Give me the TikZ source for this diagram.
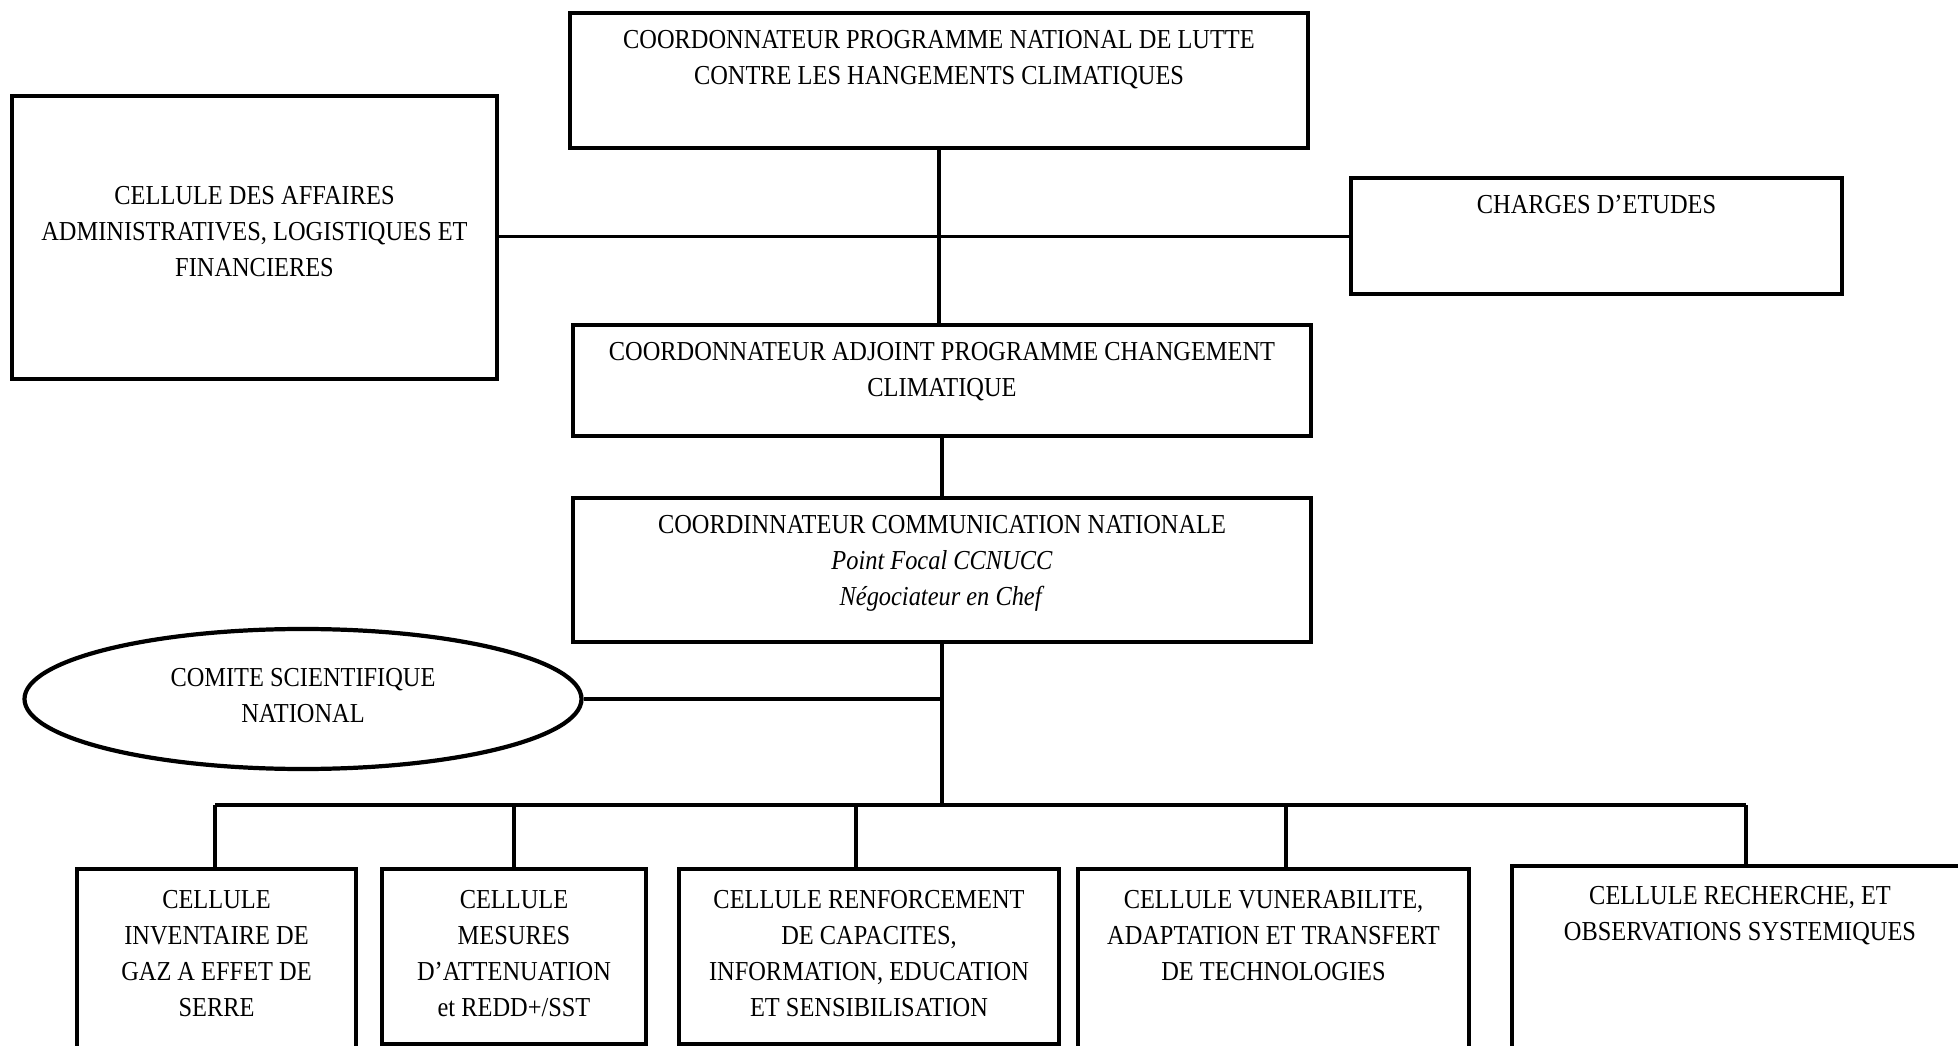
\documentclass[tikz,border=0pt]{standalone}
\usepackage{fontspec}
\setmainfont[FakeStretch=0.89]{Liberation Serif}
\usepackage{tikz}
\usetikzlibrary{shapes, positioning, calc}

\begin{document}
\begin{tikzpicture}[every node/.style={font=\fontsize{7.8}{10.24}\selectfont},
  bx/.style={draw, line width=1.2pt, rectangle, anchor=north, inner sep=0pt},
  intxt/.style={anchor=north, align=center, inner sep=0pt},
  lnk/.style={line width=0.9pt}
]
  \path[use as bounding box, clip] (0,0) rectangle (19.58,-10.46);

  % upper part
  \node[bx, minimum width=7.38cm, minimum height=1.35cm] (cnat) at (9.39,-0.11) {};
  \node[intxt, below=0.19cm of cnat.north] (cnat-t) {COORDONNATEUR PROGRAMME NATIONAL DE LUTTE\\CONTRE LES HANGEMENTS CLIMATIQUES};
  \node[bx, minimum width=4.85cm, minimum height=2.83cm] (caf) at (2.545,-0.94) {};
  \node[intxt, below=0.92cm of caf.north] (caf-t) {CELLULE DES AFFAIRES\\ADMINISTRATIVES, LOGISTIQUES ET\\FINANCIERES};
  \node[bx, minimum width=4.91cm, minimum height=1.16cm] (ched) at (15.965,-1.76) {};
  \node[intxt, below=0.19cm of ched.north] (ched-t) {CHARGES D’ETUDES};
  \node[bx, minimum width=7.38cm, minimum height=1.11cm] (cadj) at (9.42,-3.23) {};
  \node[intxt, below=0.19cm of cadj.north] (cadj-t) {COORDONNATEUR ADJOINT PROGRAMME CHANGEMENT\\CLIMATIQUE};
  \node[bx, minimum width=7.38cm, minimum height=1.44cm] (ccom) at (9.42,-4.96) {};
  \node[intxt, below=0.19cm of ccom.north] (ccom-t) {COORDINNATEUR COMMUNICATION NATIONALE\\\textit{Point Focal CCNUCC}\\\textit{Négociateur en Chef}};
  \node[draw, ellipse, line width=1.2pt, minimum width=5.57cm, minimum height=1.40cm, inner sep=0pt] (csn) at (3.03,-6.99) {};
  \node[align=center, inner sep=0pt] (csn-t) at ([yshift=0.03cm]csn.center) {COMITE SCIENTIFIQUE\\NATIONAL};

  % cellules
  \node[bx, minimum width=2.79cm, minimum height=2.5cm] (b1) at (2.165,-8.67) {};
  \node[intxt, below=0.23cm of b1.north] (b1-t) {CELLULE\\INVENTAIRE DE\\GAZ A EFFET DE\\SERRE};
  \node[bx, minimum width=2.64cm, minimum height=1.75cm] (b2) at (5.14,-8.67) {};
  \node[intxt, below=0.23cm of b2.north] (b2-t) {CELLULE\\MESURES\\D’ATTENUATION\\et REDD+/SST};
  \node[bx, minimum width=3.80cm, minimum height=1.75cm] (b3) at (8.69,-8.67) {};
  \node[intxt, below=0.23cm of b3.north] (b3-t) {CELLULE RENFORCEMENT\\DE CAPACITES,\\INFORMATION, EDUCATION\\ET SENSIBILISATION};
  \node[bx, minimum width=3.91cm, minimum height=2.5cm] (b4) at (12.735,-8.67) {};
  \node[intxt, below=0.23cm of b4.north] (b4-t) {CELLULE VUNERABILITE,\\ADAPTATION ET TRANSFERT\\DE TECHNOLOGIES};
  \node[bx, minimum width=4.56cm, minimum height=2.5cm] (b5) at (17.40,-8.64) {};
  \node[intxt, below=0.22cm of b5.north] (b5-t) {CELLULE RECHERCHE, ET\\OBSERVATIONS SYSTEMIQUES};

  \coordinate (bus) at (9.42,-8.05);
  \coordinate (d1) at ($(b1.north)+(-0.015,0)$);
  \coordinate (d2) at (b2.north);
  \coordinate (d3) at ($(b3.north)+(-0.13,0)$);
  \coordinate (d4) at ($(b4.north)+(0.125,0)$);
  \coordinate (d5) at ($(b5.north)+(0.06,0)$);

  % links
  \draw[lnk] (cnat.south) -- (cnat.south |- cadj.north);
  \draw[lnk] (caf.east |- ched.west) -- (ched.west);
  \draw[lnk] (cadj.south) -- (ccom.north);
  \draw[lnk] (ccom.south) -- (bus);
  \draw[lnk] (csn.east) -- (csn.east -| ccom.south);
  \draw[lnk] (d1 |- bus) -- (d5 |- bus);
  \draw[lnk] (d1 |- bus) -- (d1);
  \draw[lnk] (d2 |- bus) -- (d2);
  \draw[lnk] (d3 |- bus) -- (d3);
  \draw[lnk] (d4 |- bus) -- (d4);
  \draw[lnk] (d5 |- bus) -- (d5);
\end{tikzpicture}
\end{document}
